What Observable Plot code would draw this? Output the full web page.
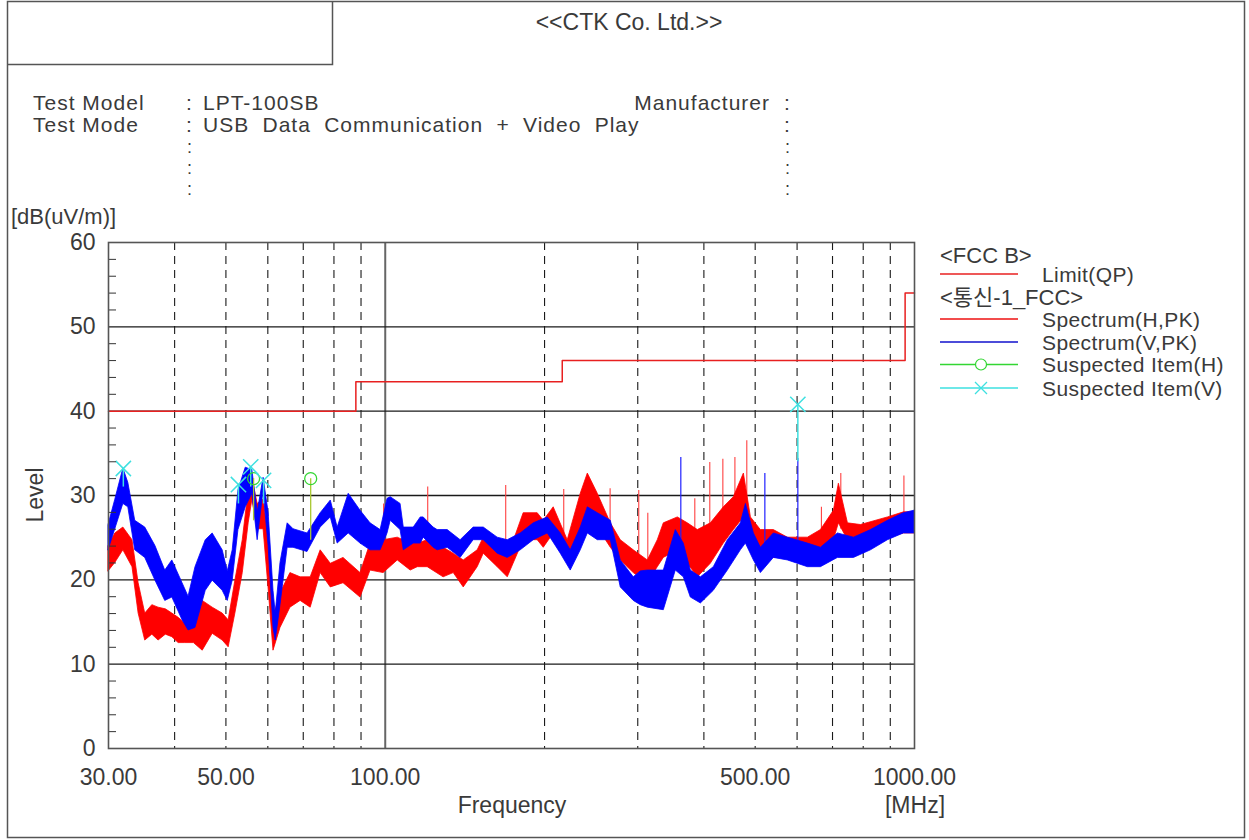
<!DOCTYPE html>
<html>
<head>
<meta charset="utf-8">
<script src="https://cdn.jsdelivr.net/npm/d3@7"></script>
<script src="https://cdn.jsdelivr.net/npm/@observablehq/plot@0.6"></script>
<style>
  html, body { margin: 0; padding: 0; background: #fff; }
  #chart { position: absolute; left: 0; top: 0; width: 1249px; height: 840px; }
</style>
</head>
<body>
<div id="chart"></div>
<script>
// ---------- data ----------
const xTicks = [30, 50, 100, 500, 1000];
const yTicks = [0, 10, 20, 30, 40, 50, 60];
const yMinorTicks = [2,4,6,8,12,14,16,18,22,24,26,28,32,34,36,38,42,44,46,48,52,54,56,58];
const gridSolidY = [10, 20, 30, 40, 50];
const gridSolidX = [100];
const gridDashedX = [40, 50, 60, 70, 80, 90, 200, 300, 400, 500, 600, 700, 800, 900];

// FCC class B limit (QP)
const limitFreq  = [30, 88, 216, 960, 1000];
const limitLevel = [40, 43.5, 46, 54, 54];

// Spectrum (H, PK) envelope
const hFreq = [30.0,30.9,32.0,33.3,34.2,35.2,36.3,37.3,38.5,39.6,40.7,41.9,43.5,45.2,47.2,49.3,50.6,52.1,53.8,55.2,56.1,57.4,58.9,60.2,61.5,63.4,66.2,69.2,72.3,75.5,78.9,83.4,89.8,93.8,99.3,105.6,111.7,115.2,120.3,128.9,134.7,140.7,149.5,153.5,163.1,170.4,182.6,194.1,199.3,208.1,221.2,234.1,241.4,252.1,266.8,278.6,294.8,313.4,327.3,336.0,357.1,373.0,389.6,412.2,436.2,455.7,476.0,490.8,512.5,542.2,576.3,628.9,665.5,704.2,719.6,748.6,792.1,890.8,954.8,1000];
const hLow  = [21.0,22.0,23.5,21.5,16.0,12.8,13.5,12.8,13.5,13.2,12.5,12.5,12.5,11.6,13.6,12.8,12.0,16.0,20.8,26.7,29.5,26.0,26.0,19.0,11.6,14.3,16.7,17.5,16.7,20.8,19.1,19.6,17.9,21.1,20.8,22.3,21.1,21.5,21.5,20.3,20.8,19.1,21.5,23.1,21.5,20.3,24.7,24.7,23.8,25.5,22.3,25.5,28.6,26.2,23.8,22.3,20.8,19.6,21.5,22.6,23.5,21.9,20.3,21.9,24.3,25.9,27.4,24.3,22.6,22.6,22.6,22.6,23.8,24.7,26.7,24.7,24.0,25.0,25.5,25.5];
const hHigh = [24.0,25.5,26.2,24.7,19.6,16.0,17.0,16.7,16.5,16.0,15.5,14.8,16.0,17.5,16.7,16.0,15.2,19.9,24.7,30.6,32.0,29.0,29.5,25.0,15.5,18.4,20.8,20.3,20.3,23.5,21.9,22.6,20.8,24.3,24.7,25.0,24.3,24.3,24.7,23.8,23.1,22.3,23.5,25.0,24.3,22.6,27.9,27.9,27.0,28.6,24.7,30.2,32.6,30.2,26.7,24.7,23.5,22.3,24.7,26.7,27.4,26.7,25.9,26.7,28.6,29.8,32.6,27.4,25.9,25.9,25.0,25.0,25.9,28.2,31.4,26.7,26.5,27.4,28.0,28.0];

// Spectrum (V, PK) envelope
const vFreq = [30.0,30.9,32.0,32.7,33.7,35.2,36.8,38.4,39.6,41.4,42.5,43.8,45.8,47.2,49.3,50.4,51.5,52.8,54.5,56.1,57.4,58.9,60.2,61.5,62.1,63.4,65.4,67.1,71.3,75.5,78.9,81.3,85.3,89.8,93.8,98.0,101.0,102.4,106.9,108.4,113.2,116.7,118.2,123.4,125.6,131.2,138.8,146.9,153.5,163.1,170.4,180.3,190.8,202.8,214.6,224.1,234.1,241.4,252.1,266.8,278.6,294.8,303.9,313.4,336.0,354.0,366.5,377.9,394.8,417.6,443.9,469.8,480.2,497.2,512.5,542.2,576.3,628.9,665.5,716.6,768.4,827.4,890.8,954.8,1000];
const vLow  = [23.5,26.0,29.0,28.6,23.5,22.6,19.9,17.5,17.9,15.2,14.0,14.3,18.7,19.9,18.7,17.5,19.9,25.9,28.6,30.2,24.7,30.5,24.0,14.3,12.8,17.0,23.8,23.8,23.3,26.2,27.4,24.3,25.5,24.3,23.5,23.5,25.5,27.0,25.9,23.5,24.3,24.3,25.0,23.8,23.5,23.8,22.6,24.7,24.7,23.1,22.6,23.5,24.7,25.5,23.1,21.1,23.5,25.5,24.7,24.7,19.1,17.5,17.0,16.7,16.4,21.1,20.3,17.9,17.2,18.7,21.1,23.5,24.3,22.3,20.8,22.6,22.3,21.5,21.5,22.6,22.6,23.5,24.7,25.5,25.5];
const vHigh = [26.5,29.5,33.2,31.5,27.0,26.2,24.0,21.1,22.3,19.6,18.0,21.5,24.7,25.5,23.5,21.0,23.5,30.6,33.3,33.0,28.0,32.1,28.0,18.7,16.0,22.0,26.7,26.0,25.5,27.9,29.4,26.2,30.2,28.2,26.7,25.9,29.6,29.8,29.0,26.2,26.2,27.4,27.4,26.2,25.9,25.9,24.7,26.2,26.2,25.0,24.7,25.5,26.7,27.4,25.5,23.5,26.2,28.6,27.9,27.0,22.3,20.3,21.0,21.1,21.1,25.9,24.3,21.1,20.3,21.5,24.7,26.7,29.0,25.5,23.8,25.5,25.0,24.3,23.8,25.5,25.0,25.9,27.0,27.9,28.2];

// narrow spikes
const hSpikeFreq = [99.3, 120.3, 168.9, 217.4, 266.0, 301.3, 313.4, 384.5, 410.4, 434.4, 457.8, 482.1, 667.0, 725.7, 955.0];
const hSpikeBase = [23.0, 23.0, 22.0, 24.0, 25.0, 22.0, 21.0, 23.0, 24.0, 25.0, 27.0, 29.0, 24.0, 26.0, 27.0];
const hSpikeTop  = [29.0, 31.0, 31.2, 30.7, 30.8, 30.6, 27.9, 29.6, 33.9, 34.3, 34.5, 36.5, 28.6, 32.6, 32.3];
const vSpikeFreq = [361.8, 521.5, 602.0];
const vSpikeBase = [23.0, 23.0, 23.0];
const vSpikeTop  = [34.5, 32.6, 34.4];

// suspected items
const hMarkFreq  = [56.4, 72.3];
const hMarkLevel = [32.0, 32.0];
const hMarkBase  = [27.0, 24.7];
const vMarkFreq  = [32.0, 52.8, 55.7, 58.9, 602.0];
const vMarkLevel = [33.2, 31.3, 33.4, 31.8, 40.8];
const vMarkBase  = [31.0, 29.0, 31.0, 29.0, 34.0];

// ---------- chart ----------
const FONT = "'Liberation Sans', Arial, 'Noto Sans CJK KR', sans-serif";
const RED = "#ff0000", BLUE = "#0000ff", GREEN = "#33d633", CYAN = "#3ee0e0";

const chart = Plot.plot({
  width: 1249,
  height: 840,
  marginLeft: 108,
  marginRight: 335,
  marginTop: 242,
  marginBottom: 92,
  style: {fontFamily: FONT, fontSize: "23px", color: "#3a3a3a", background: "transparent", overflow: "visible"},
  x: {type: "log", domain: [30, 1000]},
  y: {domain: [0, 60]},
  marks: [
    Plot.ruleX(gridDashedX, {x: d => d, stroke: "#1a1a1a", strokeWidth: 1.1, strokeDasharray: "8,6"}),
    Plot.ruleX(gridSolidX, {x: d => d, stroke: "#666", strokeWidth: 2}),
    Plot.ruleY(gridSolidY, {y: d => d, stroke: "#1a1a1a", strokeWidth: 1.3}),
    Plot.line(limitFreq, {x: d => d, y: limitLevel, curve: "step-after", stroke: "#e82020", strokeWidth: 1.5}),
    Plot.ruleX(hSpikeFreq, {x: d => d, y1: hSpikeBase, y2: hSpikeTop, stroke: "#ff4040", strokeWidth: 1.1}),
    Plot.areaY(hFreq, {x: d => d, y1: hLow, y2: hHigh, fill: RED, stroke: RED, strokeWidth: 0.8}),
    Plot.ruleX(vSpikeFreq, {x: d => d, y1: vSpikeBase, y2: vSpikeTop, stroke: "#2020ff", strokeWidth: 1.2}),
    Plot.areaY(vFreq, {x: d => d, y1: vLow, y2: vHigh, fill: BLUE, stroke: BLUE, strokeWidth: 0.8}),
    Plot.ruleX(hMarkFreq, {x: d => d, y1: hMarkBase, y2: hMarkLevel, stroke: "#a8c830", strokeWidth: 1.3}),
    Plot.ruleX(vMarkFreq, {x: d => d, y1: vMarkBase, y2: vMarkLevel, stroke: CYAN, strokeWidth: 1.5}),
    Plot.dot(hMarkFreq, {x: d => d, y: hMarkLevel, r: 6, stroke: GREEN, strokeWidth: 1.3, fill: "none"}),
    Plot.dot(vMarkFreq, {x: d => d, y: vMarkLevel, r: 7, symbol: "times", stroke: CYAN, strokeWidth: 1.5}),
    Plot.axisX({ticks: xTicks, tickFormat: d => d.toFixed(2), tickSize: 0, tickPadding: 20, label: null}),
    Plot.axisY({ticks: yTicks, tickSize: 0, tickPadding: 13, label: null}),
    Plot.axisY({ticks: yMinorTicks, tickSize: -8, tickPadding: 0, tickFormat: () => "", label: null, stroke: "#333"}),
    Plot.frame({stroke: "#555", strokeWidth: 1.6})
  ]
});
document.getElementById("chart").appendChild(chart);

// ---------- page furniture: border, header, axis titles, legend ----------
const svg = d3.select(chart);
const deco = svg.append("g").attr("font-family", FONT).attr("fill", "#3a3a3a")
  .attr("font-size", 23).attr("text-anchor", "start");

deco.append("rect").attr("x", 7.5).attr("y", 1.5).attr("width", 1237).attr("height", 836)
  .attr("fill", "none").attr("stroke", "#555").attr("stroke-width", 1.5);
deco.append("path").attr("d", "M7.5,64.5H332.5V1.5")
  .attr("fill", "none").attr("stroke", "#555").attr("stroke-width", 1.5);

function txt(s, x, y, opts = {}) {
  const t = deco.append("text").attr("x", x).attr("y", y).attr("text-anchor", "start").text(s);
  for (const k in opts) t.attr(k, opts[k]);
  return t;
}
function colonColumn(x, ys) {
  for (const y of ys) txt(":", x, y, {"font-size": 18});
}
const HDR = {"font-size": 21, "letter-spacing": "1px"};
txt("<<CTK Co. Ltd.>>", 629, 30, {"text-anchor": "middle"});
txt("Test Model", 33, 109.5, HDR);
txt("Test Mode", 33, 132, HDR);
txt(":", 186, 109.5, HDR); txt("LPT-100SB", 203, 109.5, HDR);
txt(":", 186, 132, HDR); txt("USB Data Communication + Video Play", 203, 132, {...HDR, "word-spacing": "6.5px"});
colonColumn(187, [153, 174, 195]);
txt("Manufacturer", 770, 109.5, {...HDR, "text-anchor": "end"});
txt(":", 784, 109.5, HDR); txt(":", 784, 132, HDR);
colonColumn(785, [153, 174, 195]);
txt("[dB(uV/m)]", 11, 224, {"font-size": 22});
txt("Level", 0, 0, {"text-anchor": "middle", transform: "translate(43,495) rotate(-90)"});
txt("Frequency", 512, 813, {"text-anchor": "middle"});
txt("[MHz]", 915, 813, {"text-anchor": "middle"});

// legend
const lg = deco.append("g").attr("font-size", 21).attr("text-anchor", "start");
const legendRows = [
  {type: "head", label: "<FCC B>", y: 255},
  {type: "line", label: "Limit(QP)", y: 274, color: "#e82020"},
  {type: "head", label: "<통신-1_FCC>", y: 297},
  {type: "line", label: "Spectrum(H,PK)", y: 319, color: "#ee1111"},
  {type: "line", label: "Spectrum(V,PK)", y: 342, color: "#1111cc"},
  {type: "circle", label: "Suspected Item(H)", y: 364.5, color: GREEN},
  {type: "times", label: "Suspected Item(V)", y: 388, color: CYAN}
];
for (const r of legendRows) {
  if (r.type === "head") {
    lg.append("text").attr("x", 940).attr("y", r.y + 8).attr("text-anchor", "start")
      .attr("font-size", 22).text(r.label);
    continue;
  }
  lg.append("line").attr("x1", 940).attr("x2", 1018).attr("y1", r.y).attr("y2", r.y)
    .attr("stroke", r.color).attr("stroke-width", 1.4);
  if (r.type === "circle") {
    lg.append("circle").attr("cx", 981).attr("cy", r.y).attr("r", 5.5)
      .attr("fill", "#fff").attr("stroke", r.color).attr("stroke-width", 1.2);
  }
  if (r.type === "times") {
    lg.append("path").attr("d", `M975,${r.y - 6}L987,${r.y + 6}M975,${r.y + 6}L987,${r.y - 6}`)
      .attr("stroke", r.color).attr("stroke-width", 1.3);
  }
  lg.append("text").attr("x", 1042).attr("y", r.y + 7.5).attr("text-anchor", "start")
    .attr("letter-spacing", "0.4px").text(r.label);
}
</script>
</body>
</html>
